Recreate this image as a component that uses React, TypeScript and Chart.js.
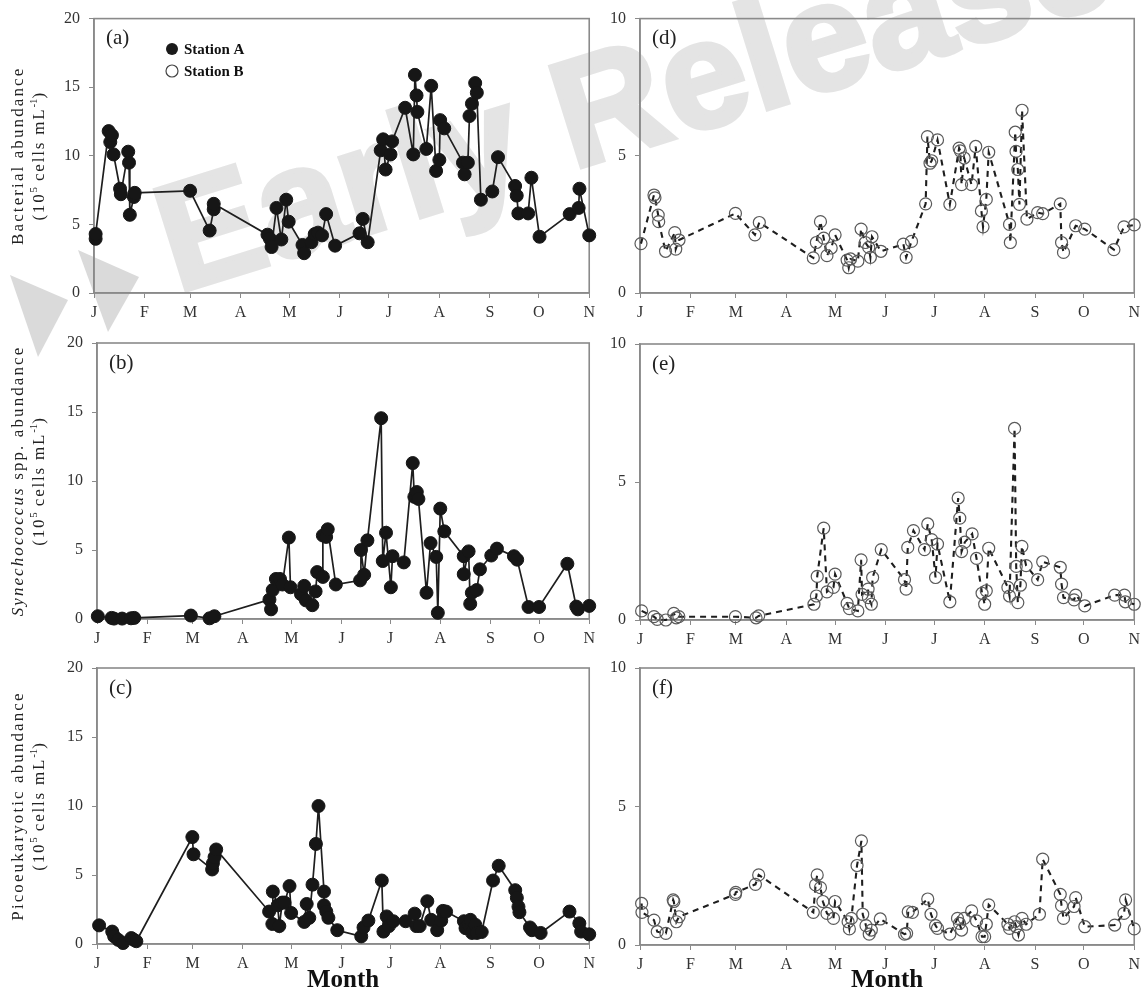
import React, { useEffect, useRef } from "react";
import { Chart, registerables } from "chart.js";

Chart.register(...registerables);

const SERIF = '"Liberation Serif", "Times New Roman", serif';

// Month ticks: days since 1 January
const monthTicks = [0, 31, 59, 90, 120, 151, 181, 212, 243, 273, 304];
const monthLabels = ["J", "F", "M", "A", "M", "J", "J", "A", "S", "O", "N"];

// (a) Bacterial abundance, Station A
const bactDaysA = [1, 1, 9, 10, 11, 12, 16, 16.5, 21, 21.5, 22, 24.5, 25, 59, 71, 73.5, 73.5, 106.5, 108, 109, 112, 115, 118, 119.5, 128, 129, 133.5, 135.5, 137.5, 140, 142.5, 148, 163, 165, 168, 176, 177.5, 179, 182, 183, 191, 196, 197, 198, 198.5, 204, 207, 210, 212, 212.5, 215, 226.5, 227.5, 229.5, 230.5, 232, 234, 235, 237.5, 244.5, 248, 258.5, 259.5, 260.5, 266.5, 268.5, 273.5, 292, 297.5, 298, 304];
const bactValsA = [3.95, 4.3, 11.8, 11.0, 11.5, 10.1, 7.6, 7.2, 10.3, 9.5, 5.7, 7.0, 7.3, 7.45, 4.55, 6.1, 6.5, 4.25, 3.95, 3.35, 6.2, 3.9, 6.8, 5.2, 3.5, 2.9, 3.7, 4.3, 4.4, 4.2, 5.75, 3.45, 4.35, 5.4, 3.7, 10.4, 11.2, 9.0, 10.1, 11.05, 13.5, 10.1, 15.9, 14.4, 13.2, 10.5, 15.1, 8.9, 9.7, 12.6, 12.0, 9.5, 8.65, 9.5, 12.9, 13.8, 15.3, 14.6, 6.8, 7.4, 9.9, 7.8, 7.1, 5.8, 5.8, 8.4, 4.1, 5.75, 6.2, 7.6, 4.2];

// (b) Synechococcus spp. abundance, Station A
const synDaysA = [0.5, 9, 10.5, 15.5, 21, 23, 58, 69.5, 72.5, 106.5, 107.5, 108.5, 110.5, 113, 114.5, 118.5, 119.5, 126, 128, 129, 133, 135, 136, 139.5, 139.5, 141.5, 142.5, 147.5, 162.5, 163, 165, 167, 175.5, 176.5, 178.5, 181.5, 182.5, 189.5, 195, 196, 197.5, 198.5, 203.5, 206, 209.5, 210.5, 212, 214.5, 226.5, 226.5, 229.5, 230.5, 231.5, 234.5, 236.5, 243.5, 247, 257.5, 259.5, 266.5, 273, 290.5, 296, 297, 304];
const synValsA = [0.2, 0.08, 0.03, 0.03, 0.05, 0.08, 0.25, 0.05, 0.2, 1.4, 0.7, 2.1, 2.9, 2.9, 2.5, 5.9, 2.3, 1.8, 2.4, 1.35, 1.0, 2.0, 3.4, 3.05, 6.05, 5.95, 6.5, 2.5, 2.8, 5.0, 3.2, 5.7, 14.55, 4.2, 6.25, 2.3, 4.55, 4.1, 11.3, 8.85, 9.2, 8.7, 1.9, 5.5, 4.5, 0.45, 8.0, 6.35, 4.55, 3.25, 4.9, 1.1, 1.9, 2.1, 3.6, 4.6, 5.1, 4.55, 4.3, 0.87, 0.87, 4.0, 0.9, 0.7, 0.95];

// (c) Picoeukaryotic abundance, Station A
const picoDaysA = [1.3, 9.4, 10.6, 13.1, 16.1, 21.2, 22.8, 24.3, 58.9, 59.6, 71.1, 71.6, 72.6, 73.6, 106.3, 108.3, 108.6, 111.6, 112.6, 114.4, 115.8, 118.9, 119.9, 128, 129.5, 131.1, 133.1, 135.2, 136.8, 140.2, 140.2, 141.6, 142.9, 148.4, 163.2, 164.6, 167.6, 175.9, 176.9, 178.9, 180.3, 183, 190.6, 196.2, 197.2, 199.3, 204, 206.4, 210.1, 212.6, 213.6, 215.6, 226.6, 227.6, 229.6, 230.6, 231.6, 233.6, 234.6, 237.6, 244.6, 248.1, 258.3, 259.3, 260.3, 260.9, 267.4, 268.6, 274, 291.8, 297.9, 299, 304];
const picoValsA = [1.35, 0.9, 0.55, 0.3, 0.07, 0.43, 0.3, 0.2, 7.75, 6.5, 5.4, 5.85, 6.3, 6.85, 2.35, 1.45, 3.8, 2.8, 1.3, 3.0, 3.0, 4.2, 2.25, 1.6, 2.9, 1.9, 4.3, 7.25, 10.0, 3.8, 2.8, 2.35, 1.9, 1.0, 0.55, 1.2, 1.7, 4.6, 0.9, 2.0, 1.3, 1.65, 1.65, 2.2, 1.3, 1.3, 3.1, 1.75, 1.0, 1.7, 2.4, 2.35, 1.65, 1.15, 1.4, 1.75, 0.8, 1.4, 0.8, 0.87, 4.6, 5.67, 3.9, 3.35, 2.7, 2.3, 1.2, 1.0, 0.8, 2.35, 1.5, 0.9, 0.7];

// (d) Bacterial abundance, Station B
const bactDaysB = [0.6, 8.6, 9.2, 11.2, 11.5, 15.7, 21.4, 22, 24, 58.7, 70.7, 73.4, 106.6, 108.5, 111, 113, 115, 117.6, 120, 127.4, 128.4, 129.5, 134, 136, 138.6, 140.7, 141.7, 142.7, 148.2, 162, 163.7, 167, 175.7, 176.8, 178.4, 179.4, 183, 190.6, 196.3, 197, 197.8, 199.4, 203.9, 206.5, 210, 211, 213, 214.5, 227.3, 227.8, 230.8, 231.3, 232.4, 233.4, 235, 238, 244.6, 247.7, 258.5, 259.3, 260.5, 268, 273.6, 291.5, 297.7, 304];
const bactValsB = [1.8, 3.57, 3.47, 2.84, 2.6, 1.52, 2.2, 1.6, 1.93, 2.9, 2.12, 2.57, 1.28, 1.84, 2.6, 2.0, 1.36, 1.64, 2.12, 1.2, 0.92, 1.24, 1.16, 2.33, 1.84, 1.66, 1.3, 2.05, 1.52, 1.78, 1.3, 1.88, 3.25, 5.7, 4.73, 4.82, 5.58, 3.23, 5.28, 5.18, 3.95, 4.92, 3.95, 5.34, 2.99, 2.41, 3.41, 5.13, 2.5, 1.84, 5.86, 5.16, 4.5, 3.23, 6.66, 2.69, 2.93, 2.89, 3.25, 1.84, 1.48, 2.45, 2.33, 1.58, 2.41, 2.48];

// (e) Synechococcus spp. abundance, Station B
const synDaysB = [1, 8.6, 10.6, 15.9, 20.8, 22.3, 23.9, 58.7, 71.4, 73, 107, 108.5, 109, 113, 115, 119, 120, 127.4, 128.8, 134, 136, 136.6, 140.3, 140.5, 142.3, 143.1, 148.4, 162.7, 163.7, 164.7, 168.2, 175, 177, 179.4, 181.8, 183, 190.6, 195.7, 196.7, 197.8, 199.8, 204.3, 207, 210.4, 212, 213, 214.5, 226.3, 227.3, 230.4, 231.4, 232.4, 234, 234.9, 237.5, 244.6, 247.7, 258.5, 259.3, 260.5, 267, 268, 273.6, 292, 298, 298.5, 304];
const synValsB = [0.33, 0.12, 0.02, 0.0, 0.24, 0.08, 0.12, 0.12, 0.08, 0.15, 0.57, 0.87, 1.58, 3.33, 1.02, 1.18, 1.66, 0.6, 0.41, 0.33, 2.18, 0.93, 1.12, 0.81, 0.57, 1.54, 2.55, 1.46, 1.12, 2.63, 3.24, 2.55, 3.48, 2.91, 1.54, 2.75, 0.66, 4.42, 3.69, 2.48, 2.82, 3.12, 2.23, 0.97, 0.57, 1.06, 2.6, 1.18, 0.87, 6.94, 1.94, 0.63, 1.26, 2.67, 1.97, 1.46, 2.11, 1.91, 1.3, 0.81, 0.73, 0.9, 0.51, 0.9, 0.9, 0.66, 0.57];

// (f) Picoeukaryotic abundance, Station B
const picoDaysB = [1, 1.2, 8.6, 10.6, 15.9, 20.4, 20.8, 22.4, 24, 58.7, 58.9, 71, 73, 106.6, 108, 109, 111, 112.5, 115, 119, 120, 128, 128.8, 130, 133.5, 136.2, 137, 139, 141, 142.3, 147.8, 162.7, 164, 165, 167.6, 177, 179, 181.8, 183, 190.6, 195.3, 196.5, 197.8, 199.4, 204, 207, 210.4, 212, 213, 214.5, 226.3, 227.3, 230.4, 231.4, 232.8, 235, 237.5, 245.7, 247.7, 258.5, 259.3, 260.5, 267, 268, 273.6, 292, 297.7, 298.7, 304];
const picoValsB = [1.5, 1.18, 0.9, 0.48, 0.42, 1.63, 1.57, 0.84, 1.02, 1.83, 1.9, 2.19, 2.53, 1.18, 2.17, 2.53, 2.07, 1.57, 1.14, 0.96, 1.57, 0.84, 0.58, 0.96, 2.87, 3.76, 1.11, 0.7, 0.39, 0.54, 0.94, 0.39, 0.42, 1.2, 1.18, 1.66, 1.11, 0.7, 0.6, 0.39, 0.96, 0.78, 0.54, 0.96, 1.23, 0.87, 0.3, 0.3, 0.75, 1.45, 0.75, 0.6, 0.84, 0.66, 0.36, 0.96, 0.75, 1.11, 3.1, 1.83, 1.42, 0.96, 1.39, 1.71, 0.66, 0.72, 1.14, 1.63, 0.58];

const legendLabels = ["Station A", "Station B"];
const panelTags = ["(a)", "(b)", "(c)", "(d)", "(e)", "(f)"];

type Seg = { t: string; italic?: boolean; sup?: boolean };

const unitLine: Seg[] = [
  { t: "(10" },
  { t: "5", sup: true },
  { t: " cells mL" },
  { t: "-1", sup: true },
  { t: ")" },
];
const titleBact: Seg[][] = [[{ t: "Bacterial abundance" }], unitLine];
const titleSyn: Seg[][] = [[{ t: "Synechococcus", italic: true }, { t: " spp. abundance" }], unitLine];
const titlePico: Seg[][] = [[{ t: "Picoeukaryotic abundance" }], unitLine];

type Panel = {
  tag: string;
  left: number;
  top: number;
  width: number;
  height: number;
  padTop: number;
  padRight: number;
  yWidth: number;
  xHeight: number;
  yMax: number;
  station: "A" | "B";
  days: number[];
  vals: number[];
  title?: Seg[][];
  month: boolean;
  legend: boolean;
};

const panels: Panel[] = [
  { tag: panelTags[0], left: 0, top: 0, width: 600, height: 320, padTop: 16, padRight: 9, yWidth: 94, xHeight: 27, yMax: 20, station: "A", days: bactDaysA, vals: bactValsA, title: titleBact, month: false, legend: true },
  { tag: panelTags[1], left: 0, top: 320, width: 600, height: 325, padTop: 23, padRight: 6, yWidth: 97, xHeight: 26, yMax: 20, station: "A", days: synDaysA, vals: synValsA, title: titleSyn, month: false, legend: false },
  { tag: panelTags[2], left: 0, top: 645, width: 600, height: 351, padTop: 23, padRight: 6, yWidth: 97, xHeight: 52, yMax: 20, station: "A", days: picoDaysA, vals: picoValsA, title: titlePico, month: true, legend: false },
  { tag: panelTags[3], left: 600, top: 0, width: 545, height: 320, padTop: 16, padRight: 7, yWidth: 40, xHeight: 27, yMax: 10, station: "B", days: bactDaysB, vals: bactValsB, month: false, legend: false },
  { tag: panelTags[4], left: 600, top: 320, width: 545, height: 325, padTop: 24, padRight: 7, yWidth: 40, xHeight: 25, yMax: 10, station: "B", days: synDaysB, vals: synValsB, month: false, legend: false },
  { tag: panelTags[5], left: 600, top: 645, width: 545, height: 351, padTop: 23, padRight: 7, yWidth: 40, xHeight: 51, yMax: 10, station: "B", days: picoDaysB, vals: picoValsB, month: true, legend: false },
];

function drawRotatedLine(ctx: CanvasRenderingContext2D, segs: Seg[], cx: number, cy: number, size: number, spacing: number) {
  ctx.save();
  ctx.translate(cx, cy);
  ctx.rotate(-Math.PI / 2);
  const anyCtx = ctx as any;
  const fontFor = (s: Seg) => `${s.italic ? "italic " : ""}${s.sup ? Math.round(size * 0.62) : size}px ${SERIF}`;
  const widths: number[] = [];
  let total = 0;
  for (const s of segs) {
    ctx.font = fontFor(s);
    anyCtx.letterSpacing = s.sup ? "0px" : `${spacing}px`;
    const w = ctx.measureText(s.t).width;
    widths.push(w);
    total += w;
  }
  let x = -total / 2;
  ctx.textBaseline = "middle";
  ctx.textAlign = "left";
  ctx.fillStyle = "#222";
  segs.forEach((s, i) => {
    ctx.font = fontFor(s);
    anyCtx.letterSpacing = s.sup ? "0px" : `${spacing}px`;
    ctx.fillText(s.t, x, s.sup ? -size * 0.33 : 0);
    x += widths[i];
  });
  anyCtx.letterSpacing = "0px";
  ctx.restore();
}

function PanelChart({ p }: { p: Panel }) {
  const ref = useRef<HTMLCanvasElement | null>(null);

  useEffect(() => {
    if (!ref.current) return;
    const isA = p.station === "A";
    const decor = {
      id: "decor" + p.tag,
      beforeDatasetsDraw(chart: any) {
        const { ctx, chartArea } = chart;
        const { left, top, right, bottom } = chartArea;
        ctx.save();
        ctx.strokeStyle = "#8a8a8a";
        ctx.lineWidth = 1.6;
        ctx.strokeRect(left, top, right - left, bottom - top);
        // panel tag
        ctx.fillStyle = "#222";
        ctx.font = `21px ${SERIF}`;
        ctx.textBaseline = "middle";
        ctx.textAlign = "left";
        ctx.fillText(p.tag, left + 12, top + 20);
        // y axis title
        if (p.title) {
          const cy = (top + bottom) / 2;
          drawRotatedLine(ctx, p.title[0], 19, cy, 17, 2.1);
          drawRotatedLine(ctx, p.title[1], 40, cy, 17, 1.8);
        }
        ctx.restore();
      },
      afterDatasetsDraw(chart: any) {
        if (!p.legend) return;
        const { ctx } = chart;
        ctx.save();
        const lx = 172;
        const ys = [49, 71];
        ys.forEach((y, i) => {
          ctx.beginPath();
          ctx.arc(lx, y, 6, 0, Math.PI * 2);
          if (i === 0) {
            ctx.fillStyle = "#1a1a1a";
            ctx.fill();
          } else {
            ctx.strokeStyle = "#444";
            ctx.lineWidth = 1.2;
            ctx.stroke();
          }
          ctx.fillStyle = "#111";
          ctx.font = `bold 15px ${SERIF}`;
          ctx.textBaseline = "middle";
          ctx.textAlign = "left";
          ctx.fillText(legendLabels[i], 184, y + 1);
        });
        ctx.restore();
      },
    };

    const tickFontX = { family: SERIF, size: 16 };
    const tickFontY = { family: SERIF, size: 16 };

    const chart = new Chart(ref.current, {
      type: "line",
      data: {
        datasets: [
          {
            label: legendLabels[isA ? 0 : 1],
            data: p.days.map((d, i) => ({ x: d, y: p.vals[i] })),
            borderColor: "#1e1e1e",
            borderWidth: isA ? 1.7 : 2.1,
            borderDash: isA ? [] : [6, 5],
            pointRadius: isA ? 6.5 : 6,
            pointBackgroundColor: isA ? "#161616" : "rgba(255,255,255,0)",
            pointBorderColor: isA ? "#161616" : "#5a5a5a",
            pointBorderWidth: isA ? 1 : 1.2,
            tension: 0,
            fill: false,
            clip: false as any,
          },
        ],
      },
      options: {
        animation: false,
        responsive: false,
        maintainAspectRatio: false,
        devicePixelRatio: 1,
        layout: { padding: { top: p.padTop, right: p.padRight, left: 0, bottom: 0 } },
        plugins: {
          legend: { display: false },
          tooltip: { enabled: false },
        },
        scales: {
          x: {
            type: "linear",
            min: 0,
            max: 304,
            afterBuildTicks: (axis: any) => {
              axis.ticks = monthTicks.map((v) => ({ value: v }));
            },
            afterFit: (axis: any) => {
              axis.height = p.xHeight;
            },
            ticks: {
              autoSkip: false,
              maxRotation: 0,
              minRotation: 0,
              padding: 5,
              color: "#333",
              font: tickFontX,
              callback: (v: any) => {
                const idx = monthTicks.indexOf(Number(v));
                return idx >= 0 ? monthLabels[idx] : "";
              },
            },
            grid: { display: true, drawOnChartArea: false, drawTicks: true, tickLength: 5, color: "#8a8a8a" },
            border: { display: true, color: "#8a8a8a", width: 1.6 },
            title: {
              display: p.month,
              text: "Month",
              color: "#111",
              font: { family: SERIF, size: 25, weight: "bold" },
              padding: { top: 0, bottom: 0 },
            },
          },
          y: {
            type: "linear",
            min: 0,
            max: p.yMax,
            afterFit: (axis: any) => {
              axis.width = p.yWidth;
            },
            ticks: { stepSize: 5, padding: 9, color: "#333", font: tickFontY },
            grid: { display: true, drawOnChartArea: false, drawTicks: true, tickLength: 5, color: "#8a8a8a" },
            border: { display: true, color: "#8a8a8a", width: 1.6 },
          },
        },
      } as any,
      plugins: [decor],
    });
    return () => chart.destroy();
  }, [p]);

  return (
    <canvas
      ref={ref}
      width={p.width}
      height={p.height}
      style={{ position: "absolute", left: p.left, top: p.top, width: p.width, height: p.height }}
    />
  );
}

export default function App() {
  return (
    <div
      style={{
        position: "absolute",
        left: 0,
        top: 0,
        width: 1145,
        height: 996,
        background: "#fff",
        overflow: "hidden",
      }}
    >
      <svg width={1145} height={996} style={{ position: "absolute", left: 0, top: 0 }}>
        <polygon points="10,275 68,300 38,357" fill="#dadada" />
        <polygon points="78,250 139,277 108,332" fill="#dadada" />
        <text
          x={177}
          y={293}
          transform="rotate(-17.3 177 293)"
          fontFamily='"Liberation Sans", Arial, sans-serif'
          fontWeight="bold"
          fontSize={152}
          fill="#e4e4e4"
          stroke="#e4e4e4"
          strokeWidth={5}
        >
          Early Release
        </text>
      </svg>
      {panels.map((p) => (
        <PanelChart key={p.tag} p={p} />
      ))}
    </div>
  );
}
